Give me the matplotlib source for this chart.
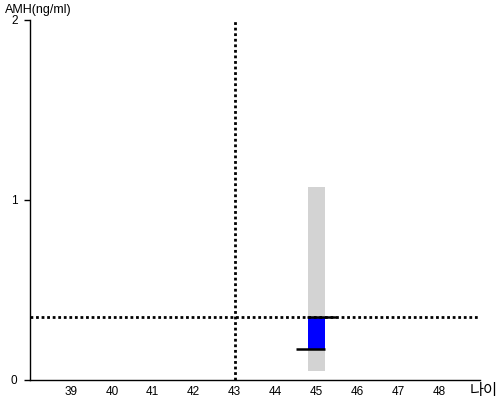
import matplotlib.pyplot as plt

#
# Les données du graphe : âge du patient, plage AMH et valeur mesurée.
#
ages = [45]
plage_basse = [0.05]
plage_haute = [1.07]
valeur_basse = [0.17]
valeur_haute = [0.35]

age_reference = 43
amh_reference = 0.35

x_ticks = [39, 40, 41, 42, 43, 44, 45, 46, 47, 48]
y_ticks = [0, 1, 2]

plt.rcParams['font.family'] = ['Liberation Sans', 'Noto Sans CJK KR', 'DejaVu Sans']

#
# On crée la figure et l'axe.
#
fig = plt.figure(figsize=(5, 4), dpi=100)
ax = fig.add_axes([0.06, 0.05, 0.9, 0.9])
ax.set_xlim(38, 49)
ax.set_ylim(0, 2)

for s in ["top", "right"]:
    ax.spines[s].set_visible(False)
for s in ["left", "bottom"]:
    ax.spines[s].set_linewidth(1)

# Plage grise et barre bleue
largeur = 0.4
for i, a in enumerate(ages):
    ax.bar(a, plage_haute[i] - plage_basse[i], bottom=plage_basse[i], width=largeur,
           color="#d3d3d3", zorder=1)
    ax.bar(a, valeur_haute[i] - valeur_basse[i], bottom=valeur_basse[i], width=largeur,
           color="#0000ff", zorder=2)
    ax.plot([a - 0.23, a + 0.47], [valeur_haute[i]] * 2, color="black", lw=1.8,
            solid_capstyle="butt", zorder=4)
    ax.plot([a - 0.5, a + 0.2], [valeur_basse[i]] * 2, color="black", lw=1.8,
            solid_capstyle="butt", zorder=4)

# Lignes de référence pointillées
ax.axvline(age_reference, color="black", lw=2, linestyle=(0, (1, 1)), zorder=3)
ax.axhline(amh_reference, color="black", lw=2, linestyle=(0, (1, 1)), zorder=3)

#
# Les ticks.
#
ax.set_xticks(x_ticks)
ax.set_xticklabels([str(t) for t in x_ticks], fontsize=8.5)
ax.tick_params(axis="x", length=0, pad=4)
ax.set_yticks(y_ticks)
ax.set_yticklabels([str(t) for t in y_ticks], fontsize=8.5)
ax.tick_params(axis="y", length=4, width=1, pad=5)

# Les titres des axes
fig.text(0.01, 0.975, "AMH(ng/ml)", fontsize=9, ha="left", va="center")
fig.text(0.995, 0.022, "나이", fontsize=11, ha="right", va="center")

fig.savefig("out.png", dpi=100)
